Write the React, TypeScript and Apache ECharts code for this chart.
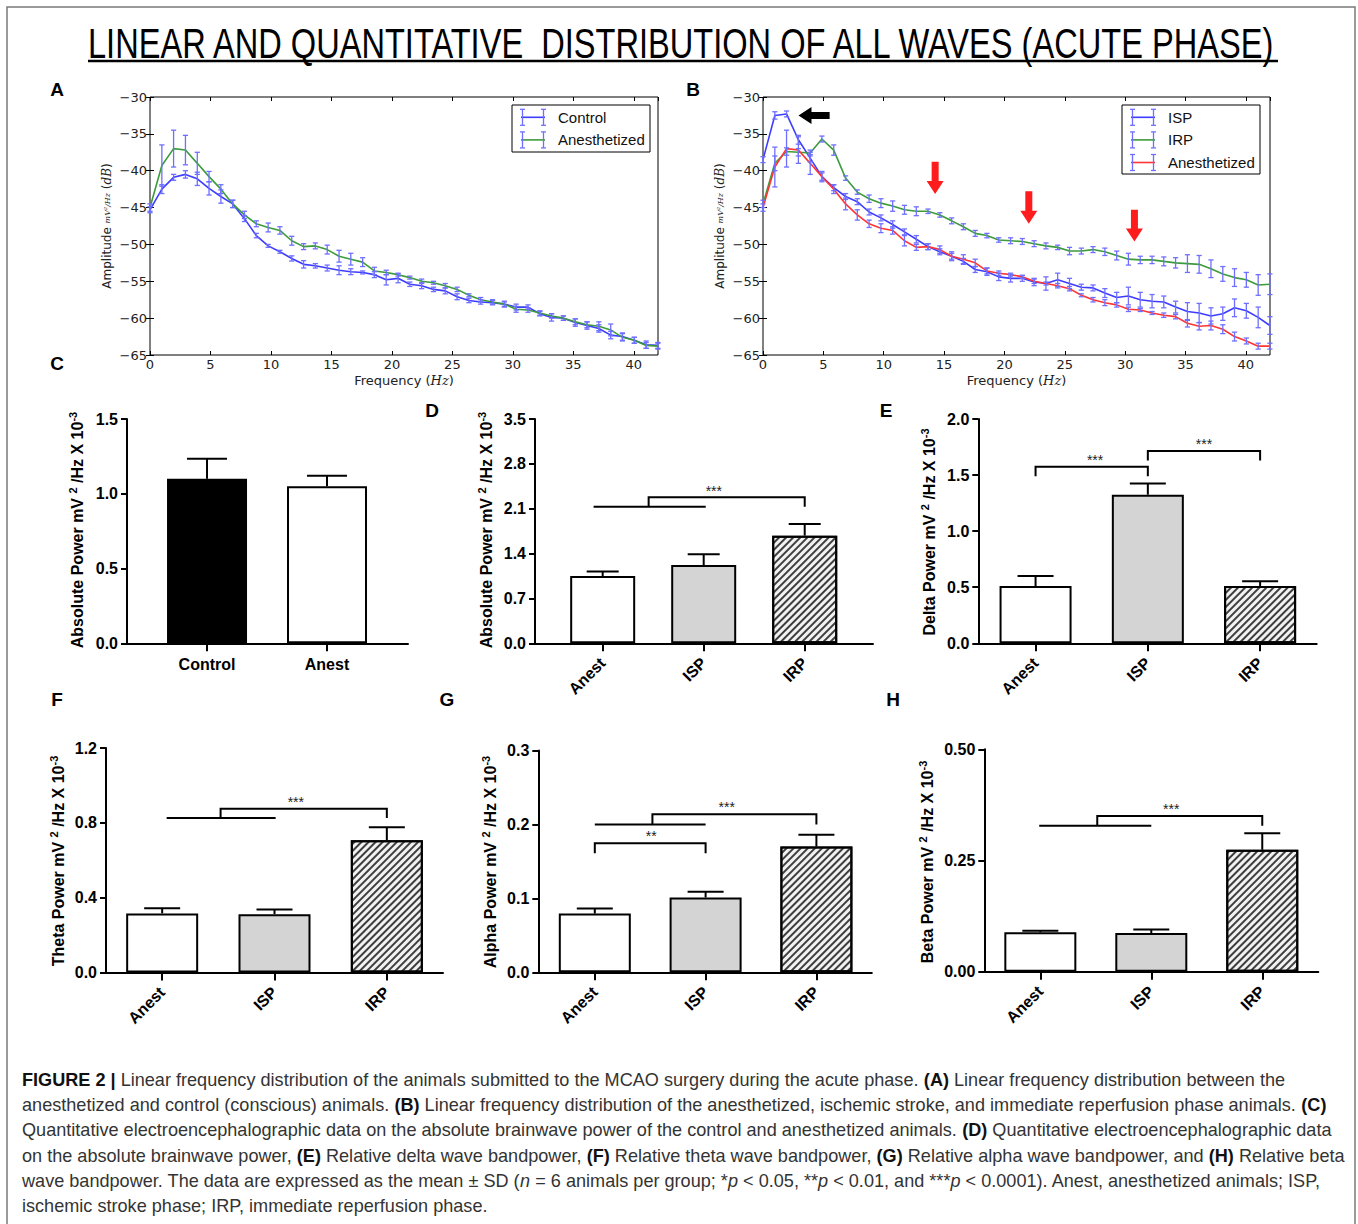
import React, { useEffect, useRef } from 'react';
import * as echarts from 'echarts';

// ---------------- DATA ----------------
const freqs = [0, 0.98, 1.95, 2.93, 3.91, 4.88, 5.86, 6.84, 7.81, 8.79, 9.77, 10.74, 11.72, 12.7, 13.67, 14.65, 15.63, 16.6, 17.58, 18.55, 19.53, 20.51, 21.48, 22.46, 23.44, 24.41, 25.39, 26.37, 27.34, 28.32, 29.3, 30.27, 31.25, 32.23, 33.2, 34.18, 35.16, 36.13, 37.11, 38.09, 39.06, 40.04, 41.02, 41.99];

const controlA = [-45.3, -42.5, -40.9, -40.5, -41.1, -42.4, -43.5, -44.5, -46.5, -48.8, -50.2, -51.0, -51.9, -52.7, -52.9, -53.2, -53.5, -53.7, -53.8, -54.1, -54.8, -54.6, -55.4, -55.6, -56.1, -56.3, -57.1, -57.6, -57.8, -57.9, -58.1, -58.5, -58.5, -59.4, -59.9, -60.0, -60.6, -61.0, -61.4, -62.3, -62.5, -63.0, -63.6, -63.7];
const controlASd = [0.4, 0.6, 0.4, 0.5, 0.9, 0.9, 0.9, 0.5, 0.4, 0.3, 0.2, 0.2, 0.35, 0.5, 0.3, 0.4, 0.6, 0.4, 0.2, 0.4, 0.7, 0.6, 0.3, 0.4, 0.3, 0.4, 0.4, 0.3, 0.3, 0.3, 0.4, 0.4, 0.3, 0.3, 0.5, 0.3, 0.5, 0.5, 0.5, 0.5, 0.5, 0.4, 0.5, 0.4];
const anestA = [-45.0, -39.3, -37.0, -37.2, -39.0, -40.8, -42.5, -44.5, -46.0, -47.2, -47.7, -48.1, -49.5, -50.3, -50.2, -50.7, -51.6, -52.0, -52.4, -53.6, -53.8, -54.1, -54.5, -55.0, -55.2, -55.6, -56.1, -56.9, -57.5, -57.8, -58.1, -58.8, -58.9, -59.3, -59.7, -60.0, -60.5, -60.9, -61.1, -61.6, -62.6, -63.0, -63.7, -63.8];
const anestASd = [0.5, 2.8, 2.5, 2.0, 1.5, 0.7, 0.6, 0.5, 0.5, 0.4, 0.6, 0.5, 0.6, 0.4, 0.4, 0.6, 0.8, 0.8, 0.6, 0.5, 0.3, 0.2, 0.2, 0.3, 0.2, 0.3, 0.3, 0.2, 0.3, 0.3, 0.3, 0.4, 0.3, 0.3, 0.3, 0.3, 0.4, 0.4, 0.6, 0.8, 0.5, 0.4, 0.4, 0.4];

const ispB = [-38.5, -32.5, -32.3, -35.8, -38.3, -40.8, -42.3, -43.5, -44.2, -45.6, -46.4, -47.3, -48.3, -49.3, -50.3, -51.0, -51.6, -52.3, -53.4, -53.7, -54.4, -54.6, -54.6, -55.1, -55.3, -54.8, -55.3, -55.8, -55.9, -56.6, -57.2, -57.0, -57.5, -57.7, -57.8, -58.5, -59.1, -59.3, -59.7, -59.4, -58.6, -59.0, -59.9, -61.0];
const ispBSd = [0.4, 0.5, 0.4, 0.6, 0.5, 0.5, 0.4, 0.4, 0.4, 0.4, 0.4, 0.5, 0.4, 0.5, 0.4, 0.4, 0.4, 0.4, 0.4, 0.5, 0.5, 0.5, 0.4, 0.5, 0.9, 0.9, 0.7, 0.4, 0.4, 0.6, 0.7, 1.2, 1.0, 0.9, 0.8, 0.8, 1.2, 1.3, 1.1, 0.9, 1.2, 1.0, 1.4, 1.2];
const irpB = [-44.5, -39.0, -37.4, -37.5, -37.6, -35.7, -37.2, -41.0, -42.9, -43.8, -44.4, -44.8, -45.3, -45.5, -45.5, -46.0, -46.8, -47.6, -48.5, -48.8, -49.4, -49.5, -49.6, -49.9, -50.2, -50.4, -50.9, -50.9, -50.7, -51.0, -51.5, -52.0, -52.1, -52.1, -52.3, -52.5, -52.6, -52.7, -53.3, -54.0, -54.5, -54.8, -55.5, -55.4];
const irpBSd = [0.5, 1.0, 0.5, 0.5, 0.4, 0.4, 0.7, 0.3, 0.3, 0.5, 0.6, 0.7, 0.6, 0.6, 0.3, 0.3, 0.4, 0.4, 0.4, 0.3, 0.3, 0.4, 0.4, 0.4, 0.4, 0.3, 0.5, 0.4, 0.4, 0.5, 0.6, 0.8, 0.5, 0.5, 0.6, 0.7, 1.2, 1.2, 1.2, 1.0, 1.2, 1.0, 1.4, 1.4];
const anestB = [-45.0, -39.5, -37.0, -37.2, -39.0, -40.8, -42.5, -44.5, -46.0, -47.2, -47.8, -48.1, -49.5, -50.4, -50.3, -50.7, -51.6, -52.0, -52.5, -53.6, -53.9, -54.1, -54.4, -55.0, -55.3, -55.6, -56.0, -56.9, -57.5, -57.9, -58.2, -58.8, -58.9, -59.3, -59.6, -59.8, -60.7, -61.1, -61.0, -61.5, -62.5, -63.1, -63.8, -63.8];
const anestBSd = [0.5, 2.7, 2.5, 1.8, 1.5, 0.7, 0.6, 0.8, 0.7, 0.5, 0.6, 0.5, 0.7, 0.4, 0.4, 0.5, 0.6, 0.6, 0.5, 0.4, 0.3, 0.2, 0.2, 0.3, 0.2, 0.3, 0.3, 0.2, 0.3, 0.4, 0.3, 0.3, 0.2, 0.2, 0.3, 0.3, 0.5, 0.5, 0.6, 0.6, 0.6, 0.4, 0.4, 0.4];

const catsC = ['Control', 'Anest'];
const meanC = [1.1, 1.05];
const sdC = [0.135, 0.07];
const cats3 = ['Anest', 'ISP', 'IRP'];
const meanD = [1.05, 1.22, 1.68];
const sdD = [0.07, 0.17, 0.18];
const meanE = [0.51, 1.325, 0.51];
const sdE = [0.09, 0.1, 0.043];
const meanF = [0.316, 0.312, 0.707];
const sdF = [0.027, 0.025, 0.069];
const meanG = [0.0795, 0.1012, 0.17];
const sdG = [0.0068, 0.0078, 0.016];
const meanH = [0.0885, 0.087, 0.274];
const sdH = [0.0035, 0.008, 0.037];

// annotations (data coordinates)
const arrowsB = [[5.52, -32.5, 2.94, -32.5], [14.26, -38.8, 14.26, -43.15], [22.02, -42.8, 22.02, -47.2], [30.77, -45.3, 30.77, -49.6]];
const arrowColors = ['#000000', '#ff1c1c', '#ff1c1c', '#ff1c1c'];

const bracketsD = [[[-0.09, 2.13], [1.02, 2.13]], [[0.455, 2.13], [0.455, 2.28], [2, 2.28], [2, 2.13]]];
const starsD = [[1.1, 2.38, '***']];
const bracketsE = [[[0, 1.49], [0, 1.575], [1, 1.575], [1, 1.49]], [[1, 1.63], [1, 1.715], [2, 1.715], [2, 1.63]]];
const starsE = [[0.53, 1.632, '***'], [1.5, 1.775, '***']];
const bracketsF = [[[0.04, 0.826], [1.01, 0.826]], [[0.52, 0.826], [0.52, 0.875], [2, 0.875], [2, 0.826]]];
const starsF = [[1.19, 0.912, '***']];
const bracketsG = [[[0, 0.161], [0, 0.1744], [1, 0.1744], [1, 0.161]], [[0, 0.2], [1, 0.2]], [[0.52, 0.2], [0.52, 0.2137], [2, 0.2137], [2, 0.2]]];
const starsG = [[0.51, 0.184, '**'], [1.19, 0.224, '***']];
const bracketsH = [[[-0.01, 0.328], [1.0, 0.328]], [[0.513, 0.328], [0.513, 0.35], [2, 0.35], [2, 0.328]]];
const starsH = [[1.18, 0.366, '***']];

const captionLines = [
  '{b|FIGURE 2 |} Linear frequency distribution of the animals submitted to the MCAO surgery during the acute phase. {b|(A)} Linear frequency distribution between the',
  'anesthetized and control (conscious) animals. {b|(B)} Linear frequency distribution of the anesthetized, ischemic stroke, and immediate reperfusion phase animals. {b|(C)}',
  'Quantitative electroencephalographic data on the absolute brainwave power of the control and anesthetized animals. {b|(D)} Quantitative electroencephalographic data',
  'on the absolute brainwave power, {b|(E)} Relative delta wave bandpower, {b|(F)} Relative theta wave bandpower, {b|(G)} Relative alpha wave bandpower, and {b|(H)} Relative beta',
  'wave bandpower. The data are expressed as the mean \u00b1 SD ({i|n} = 6 animals per group; *{i|p} < 0.05, **{i|p} < 0.01, and ***{i|p} < 0.0001). Anest, anesthetized animals; ISP,',
  'ischemic stroke phase; IRP, immediate reperfusion phase.',
];
const titleText = 'LINEAR AND QUANTITATIVE  DISTRIBUTION OF ALL WAVES (ACUTE PHASE)';

// ---------------- LAYOUT ----------------
const HATCH = 'hatch';
const barPanels: any[] = [
  { cats: catsC, mean: meanC, sd: sdC, fills: ['#000000', '#ffffff'], left: 127, width: 281, top: 419, height: 224.3, min: -0.667, max: 1.675, barWidth: 80, cap: 20, yMax: 1.5, yInt: 0.5, dec: 1, rotate: 0, title: 'Absolute Power mV ', tx: 77, ty: 530, brackets: [], stars: [] },
  { cats: cats3, mean: meanD, sd: sdD, fills: ['#ffffff', '#d4d4d4', HATCH], left: 535, width: 338, top: 419, height: 224.3, min: -0.67, max: 2.676, barWidth: 65, cap: 16, yMax: 3.5, yInt: 0.7, dec: 1, rotate: 45, title: 'Absolute Power mV ', tx: 486, ty: 530, brackets: bracketsD, stars: starsD },
  { cats: cats3, mean: meanE, sd: sdE, fills: ['#ffffff', '#d4d4d4', HATCH], left: 978.3, width: 338.4, top: 419, height: 224.3, min: -0.51, max: 2.504, barWidth: 72, cap: 18, yMax: 2.0, yInt: 0.5, dec: 1, rotate: 45, title: 'Delta Power mV ', tx: 929, ty: 532, brackets: bracketsE, stars: starsE },
  { cats: cats3, mean: meanF, sd: sdF, fills: ['#ffffff', '#d4d4d4', HATCH], left: 106, width: 337, top: 748, height: 224.5, min: -0.5, max: 2.5, barWidth: 72, cap: 18, yMax: 1.2, yInt: 0.4, dec: 1, rotate: 45, title: 'Theta Power mV ', tx: 58, ty: 861, brackets: bracketsF, stars: starsF },
  { cats: cats3, mean: meanG, sd: sdG, fills: ['#ffffff', '#d4d4d4', HATCH], left: 538.3, width: 333.5, top: 750.5, height: 221.8, min: -0.51, max: 2.5, barWidth: 72, cap: 18, yMax: 0.3, yInt: 0.1, dec: 1, rotate: 45, title: 'Alpha Power mV ', tx: 490, ty: 862, brackets: bracketsG, stars: starsG },
  { cats: cats3, mean: meanH, sd: sdH, fills: ['#ffffff', '#d4d4d4', HATCH], left: 984.3, width: 334, top: 749.3, height: 222.4, min: -0.505, max: 2.505, barWidth: 72, cap: 18, yMax: 0.5, yInt: 0.25, dec: 2, rotate: 45, title: 'Beta Power mV ', tx: 927, ty: 862, brackets: bracketsH, stars: starsH },
];

const BLUE = '#3d3dff';
const GREEN = '#3c9c3c';
const RED = '#ff3434';
const ERR = '#6f6fff';

function parseRich(str: string) {
  const re = /\{(\w+)\|([^}]*)\}|([^{]+)/g;
  const out: [string, string][] = [];
  let m: any;
  while ((m = re.exec(str))) {
    if (m[1]) out.push([m[1], m[2]]);
    else out.push(['n', m[3]]);
  }
  return out;
}

function measureSegs(segs: [string, string][], size: number, family: string, styles: any) {
  const ctx = document.createElement('canvas').getContext('2d') as CanvasRenderingContext2D;
  let w = 0;
  segs.forEach(([k, t]) => {
    const st = styles[k] || {};
    ctx.font = `${st.fontStyle || 'normal'} ${st.fontWeight || 'normal'} ${size}px "${family}"`;
    w += ctx.measureText(t).width;
  });
  return w;
}

function buildOption() {
  const grids: any[] = [];
  const xAxes: any[] = [];
  const yAxes: any[] = [];
  const series: any[] = [];
  const graphic: any[] = [];

  // ---- line panels ----
  const lineGrids = [{ left: 150, top: 97, width: 508, height: 258 }, { left: 763, top: 97, width: 507, height: 258 }];
  const tickFont = { fontFamily: 'DejaVu Sans', fontSize: 13, color: '#222' };
  lineGrids.forEach((g, gi) => {
    grids.push({ ...g, show: true, borderColor: '#000', borderWidth: 1, backgroundColor: 'transparent' });
    ['bottom', 'top'].forEach((pos) => {
      xAxes.push({
        type: 'value', gridIndex: gi, position: pos, min: 0, max: 42, interval: 5,
        axisLine: { show: false },
        axisTick: { show: true, inside: true, length: 4, lineStyle: { color: '#000', width: 1 } },
        axisLabel: pos === 'bottom' ? { ...tickFont, margin: 3, showMaxLabel: false, formatter: (v: number) => String(v) } : { show: false },
        splitLine: { show: false },
        name: pos === 'bottom' ? '{a|Frequency (}{b|Hz}{a|)}' : '',
        nameLocation: 'middle', nameGap: 19,
        nameTextStyle: { rich: { a: { fontFamily: 'DejaVu Sans', fontSize: 13, color: '#222' }, b: { fontFamily: 'DejaVu Serif', fontStyle: 'italic', fontSize: 13, color: '#222' } } },
      });
    });
    ['left', 'right'].forEach((pos) => {
      yAxes.push({
        type: 'value', gridIndex: gi, position: pos, min: -65, max: -30, interval: 5,
        axisLine: { show: false },
        axisTick: { show: true, inside: true, length: 4, lineStyle: { color: '#000', width: 1 } },
        axisLabel: pos === 'left' ? { ...tickFont, margin: 3, formatter: (v: number) => String(v).replace('-', '\u2212') } : { show: false },
        splitLine: { show: false },
        name: pos === 'left' ? '{a|Amplitude }{f|mV\u00b2/Hz}{a| (}{i|dB}{a|)}' : '',
        nameLocation: 'middle', nameGap: 37, nameRotate: 90,
        nameTextStyle: { rich: { a: { fontFamily: 'DejaVu Sans', fontSize: 12, color: '#222' }, f: { fontFamily: 'DejaVu Serif', fontStyle: 'italic', fontSize: 8, color: '#222' }, i: { fontFamily: 'DejaVu Serif', fontStyle: 'italic', fontSize: 12, color: '#222' } } },
      });
    });
  });

  const lineSeries = (axis: number, vals: number[], color: string) => ({
    type: 'line', xAxisIndex: axis * 2, yAxisIndex: axis * 2, data: freqs.map((f, i) => [f, vals[i]]),
    showSymbol: false, symbol: 'none', lineStyle: { color, width: 1.6 }, silent: true, z: 2,
  });
  const errSeries = (axis: number, vals: number[], sds: number[]) => ({
    type: 'custom', xAxisIndex: axis * 2, yAxisIndex: axis * 2,
    data: freqs.map((f, i) => [f, vals[i] - sds[i], vals[i] + sds[i]]),
    encode: { x: 0, y: [1, 2] }, silent: true, z: 3,
    renderItem: (params: any, api: any) => {
      const lo = api.coord([api.value(0), api.value(1)]);
      const hi = api.coord([api.value(0), api.value(2)]);
      const w = 2.6;
      const style = { stroke: ERR, lineWidth: 1.3 };
      return {
        type: 'group', children: [
          { type: 'line', shape: { x1: lo[0], y1: lo[1], x2: hi[0], y2: hi[1] }, style },
          { type: 'line', shape: { x1: lo[0] - w, y1: lo[1], x2: lo[0] + w, y2: lo[1] }, style },
          { type: 'line', shape: { x1: hi[0] - w, y1: hi[1], x2: hi[0] + w, y2: hi[1] }, style },
        ],
      };
    },
  });
  series.push(lineSeries(0, controlA, BLUE), lineSeries(0, anestA, GREEN));
  series.push(errSeries(0, controlA, controlASd), errSeries(0, anestA, anestASd));
  series.push(lineSeries(1, ispB, BLUE), lineSeries(1, irpB, GREEN), lineSeries(1, anestB, RED));
  series.push(errSeries(1, ispB, ispBSd), errSeries(1, irpB, irpBSd), errSeries(1, anestB, anestBSd));

  // arrows on B
  series.push({
    type: 'custom', xAxisIndex: 2, yAxisIndex: 2, data: arrowsB, encode: { x: [0, 2], y: [1, 3] }, silent: true, z: 5,
    renderItem: (params: any, api: any) => {
      const t = api.coord([api.value(0), api.value(1)]);
      const h = api.coord([api.value(2), api.value(3)]);
      const dx = h[0] - t[0], dy = h[1] - t[1];
      const L = Math.sqrt(dx * dx + dy * dy) || 1;
      const ux = dx / L, uy = dy / L, nx = -uy, ny = ux;
      const sw = 3.5, hw = 8.5, hl = 13;
      const nk = [h[0] - ux * hl, h[1] - uy * hl];
      const pts = [
        [t[0] + nx * sw, t[1] + ny * sw], [nk[0] + nx * sw, nk[1] + ny * sw], [nk[0] + nx * hw, nk[1] + ny * hw],
        [h[0], h[1]], [nk[0] - nx * hw, nk[1] - ny * hw], [nk[0] - nx * sw, nk[1] - ny * sw], [t[0] - nx * sw, t[1] - ny * sw],
      ];
      return { type: 'polygon', shape: { points: pts }, style: { fill: arrowColors[params.dataIndex] } };
    },
  });

  // legends
  const legend = (x: number, y: number, h: number, items: [string, string][]) => {
    graphic.push({ type: 'rect', shape: { x, y, width: 138, height: h }, style: { fill: '#fff', stroke: '#000', lineWidth: 1 }, z: 10 });
    items.forEach(([label, color], i) => {
      const cy = y + 12.3 + i * 22.6;
      const x1 = x + 9, x2 = x + 33;
      const es = { stroke: ERR, lineWidth: 1.3 };
      graphic.push({ type: 'line', shape: { x1, y1: cy, x2, y2: cy }, style: { stroke: color, lineWidth: 1.6 }, z: 11 });
      [x1 + 1.5, x2 - 1.5].forEach((vx) => {
        graphic.push({ type: 'line', shape: { x1: vx, y1: cy - 8, x2: vx, y2: cy + 8 }, style: es, z: 11 });
        graphic.push({ type: 'line', shape: { x1: vx - 2.5, y1: cy - 8, x2: vx + 2.5, y2: cy - 8 }, style: es, z: 11 });
        graphic.push({ type: 'line', shape: { x1: vx - 2.5, y1: cy + 8, x2: vx + 2.5, y2: cy + 8 }, style: es, z: 11 });
      });
      graphic.push({ type: 'text', x: x + 46, y: cy, style: { text: label, fontFamily: 'Liberation Sans', fontSize: 15, fill: '#111', verticalAlign: 'middle' }, z: 11 });
    });
  };
  legend(512, 105, 47, [['Control', BLUE], ['Anesthetized', GREEN]]);
  legend(1122, 105, 69, [['ISP', BLUE], ['IRP', GREEN], ['Anesthetized', RED]]);

  // ---- bar panels ----
  const boldFont = { fontFamily: 'Liberation Sans', fontWeight: 'bold', fontSize: 16, color: '#000' };
  barPanels.forEach((p, k) => {
    const gi = 2 + k;
    const ai = 4 + k;
    const idx = p.cats.map((_: string, i: number) => i);
    grids.push({ left: p.left, top: p.top, width: p.width, height: p.height });
    xAxes.push({
      type: 'value', gridIndex: gi, min: p.min, max: p.max,
      axisLine: { show: true, onZero: false, lineStyle: { color: '#000', width: 2 } },
      axisTick: { show: true, customValues: idx, length: 8, lineStyle: { color: '#000', width: 2 } },
      axisLabel: { ...boldFont, show: true, customValues: idx, rotate: p.rotate, margin: p.rotate ? 17 : 13, formatter: (v: number) => p.cats[Math.round(v)] ?? '' },
      splitLine: { show: false },
    });
    yAxes.push({
      type: 'value', gridIndex: gi, min: 0, max: p.yMax, interval: p.yInt,
      axisLine: { show: true, onZero: false, lineStyle: { color: '#000', width: 2 } },
      axisTick: { show: true, length: 6, lineStyle: { color: '#000', width: 2 } },
      axisLabel: { ...boldFont, margin: 9, formatter: (v: number) => v.toFixed(p.dec) },
      splitLine: { show: false },
    });
    series.push({
      type: 'bar', xAxisIndex: ai, yAxisIndex: ai, barWidth: p.barWidth, silent: true, z: 2,
      data: p.mean.map((m: number, i: number) => {
        const f = p.fills[i];
        const itemStyle: any = { color: f === HATCH ? '#f2f2f2' : f, borderColor: '#000', borderWidth: 2 };
        if (f === HATCH) {
          itemStyle.decal = { symbol: 'rect', symbolSize: 1, color: 'rgba(30,30,30,0.85)', dashArrayX: [1, 0], dashArrayY: [1.6, 2.6], rotation: -Math.PI / 4 };
        }
        return { value: [i, m], itemStyle };
      }),
    });
    series.push({
      type: 'custom', xAxisIndex: ai, yAxisIndex: ai, silent: true, z: 4,
      data: p.mean.map((m: number, i: number) => [i, m, m + p.sd[i]]), encode: { x: 0, y: [1, 2] },
      renderItem: (params: any, api: any) => {
        const lo = api.coord([api.value(0), api.value(1)]);
        const hi = api.coord([api.value(0), api.value(2)]);
        const st = { stroke: '#000', lineWidth: 2 };
        return {
          type: 'group', children: [
            { type: 'line', shape: { x1: lo[0], y1: lo[1], x2: hi[0], y2: hi[1] }, style: st },
            { type: 'line', shape: { x1: hi[0] - p.cap, y1: hi[1], x2: hi[0] + p.cap, y2: hi[1] }, style: st },
          ],
        };
      },
    });
    if (p.brackets.length) {
      series.push({
        type: 'custom', xAxisIndex: ai, yAxisIndex: ai, silent: true, z: 4,
        data: p.brackets.map((b: number[][]) => b[0]), encode: { x: 0, y: 1 },
        renderItem: (params: any, api: any) => {
          const pts = p.brackets[params.dataIndex].map((pt: number[]) => api.coord(pt));
          return { type: 'polyline', shape: { points: pts }, style: { stroke: '#000', lineWidth: 2, fill: null } };
        },
      });
      series.push({
        type: 'custom', xAxisIndex: ai, yAxisIndex: ai, silent: true, z: 4,
        data: p.stars.map((s: any[]) => [s[0], s[1]]), encode: { x: 0, y: 1 },
        renderItem: (params: any, api: any) => {
          const s = p.stars[params.dataIndex];
          const c = api.coord([s[0], s[1]]);
          return { type: 'text', x: c[0], y: c[1], style: { text: s[2], fontFamily: 'Liberation Sans', fontSize: 14, fill: '#222', align: 'center', verticalAlign: 'middle' } };
        },
      });
    }
    // y-axis title with superscripts
    graphic.push({
      type: 'text', x: p.tx, y: p.ty, rotation: Math.PI / 2,
      style: {
        text: `{t|${p.title}}{s|2}{t| /Hz X 10}{s|-3}`,
        align: 'center', verticalAlign: 'middle',
        rich: {
          t: { fontFamily: 'Liberation Sans', fontWeight: 'bold', fontSize: 16, lineHeight: 20, fill: '#000' },
          s: { fontFamily: 'Liberation Sans', fontWeight: 'bold', fontSize: 11, lineHeight: 11, verticalAlign: 'top', fill: '#000' },
        },
      },
    });
  });

  // ---- frame, title, letters, caption ----
  graphic.push({ type: 'rect', shape: { x: 7, y: 7, width: 1348, height: 1240 }, style: { fill: 'none', stroke: '#7a7a7a', lineWidth: 1.5 }, silent: true, z: 0 });
  const titleW = measureSegs([['n', titleText]], 43, 'Liberation Sans', {});
  graphic.push({ type: 'text', x: 88, y: 43, scaleX: 1190 / titleW, style: { text: titleText, fontFamily: 'Liberation Sans', fontSize: 43, fill: '#000', verticalAlign: 'middle' } });
  graphic.push({ type: 'line', shape: { x1: 88, y1: 61, x2: 1278, y2: 61 }, style: { stroke: '#000', lineWidth: 2.5 } });

  const letters: [string, number, number][] = [['A', 57, 89], ['B', 693, 89], ['C', 57, 363], ['D', 432, 410], ['E', 886, 410], ['F', 57, 699], ['G', 447, 699], ['H', 893, 699]];
  letters.forEach(([t, x, y]) => {
    graphic.push({ type: 'text', x, y, style: { text: t, fontFamily: 'Liberation Sans', fontWeight: 'bold', fontSize: 19, fill: '#000', align: 'center', verticalAlign: 'middle' } });
  });

  const capSize = 18;
  const capStyles: any = {
    n: { fontFamily: 'Liberation Sans', fontSize: capSize, fill: '#333' },
    b: { fontFamily: 'Liberation Sans', fontSize: capSize, fontWeight: 'bold', fill: '#111' },
    i: { fontFamily: 'Liberation Sans', fontSize: capSize, fontStyle: 'italic', fill: '#333' },
  };
  const segs0 = parseRich(captionLines[0]);
  const capScale = 1263 / measureSegs(segs0, capSize, 'Liberation Sans', capStyles);
  captionLines.forEach((line, li) => {
    const segs = parseRich(line);
    const text = segs.map(([k, t]) => `{${k}|${t}}`).join('');
    graphic.push({ type: 'text', x: 22, y: 1080 + li * 25.2, scaleX: capScale, style: { text, rich: capStyles, verticalAlign: 'middle', fontFamily: 'Liberation Sans', fontSize: capSize, fill: '#333' } });
  });

  return { animation: false, backgroundColor: '#ffffff', grid: grids, xAxis: xAxes, yAxis: yAxes, series, graphic };
}

export default function App() {
  const ref = useRef<HTMLDivElement>(null);
  useEffect(() => {
    const chart = echarts.init(ref.current as HTMLDivElement, null, { renderer: 'svg' });
    chart.setOption(buildOption() as any);
    return () => chart.dispose();
  }, []);
  return <div ref={ref} style={{ position: 'absolute', left: 0, top: 0, width: 1358, height: 1224 }} />;
}
